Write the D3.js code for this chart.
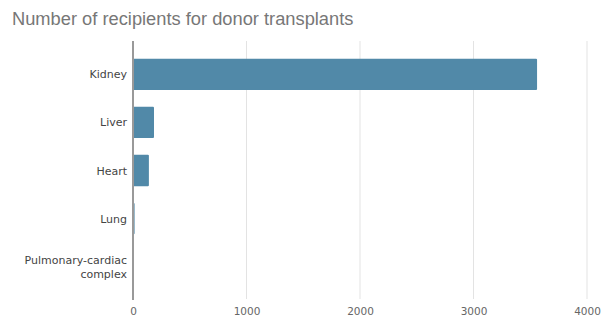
<!DOCTYPE html>
<html><head><meta charset="utf-8">
<script src="https://cdn.jsdelivr.net/npm/d3@7"></script>
<style>body{margin:0;background:#fff;} svg{display:block;}</style>
</head><body>
<svg id="c" width="601" height="322"></svg>
<script>
const categories = ["Kidney", "Liver", "Heart", "Lung", "Pulmonary-cardiac complex"];
const values = [3560, 185, 140, 14, 4];
const tickValues = [0, 1000, 2000, 3000, 4000];
const title = "Number of recipients for donor transplants";

const svg = d3.select("#c");
const x = d3.scaleLinear().domain([0, 4000]).range([133, 587]);
const y = d3.scaleBand().domain(categories).range([50, 291]).paddingInner(0.35).paddingOuter(0.18);
const font = "Liberation Sans, Arial, sans-serif";
const font2 = "DejaVu Sans, Verdana, sans-serif";

svg.append("text").attr("x", 12).attr("y", 25).text(title)
  .attr("font-family", font).attr("font-size", 18.3).attr("fill", "#777");

// grid
svg.append("g").selectAll("line").data(tickValues.slice(1)).join("line")
  .attr("x1", d => x(d)).attr("x2", d => x(d)).attr("y1", 41).attr("y2", 299)
  .attr("stroke", "#e3e3e3").attr("stroke-width", 1);

// bars
svg.append("g").selectAll("rect").data(categories).join("rect")
  .attr("x", x(0)).attr("y", d => y(d))
  .attr("width", (d, i) => Math.max(0, x(values[i]) - x(0)))
  .attr("height", y.bandwidth()).attr("fill", "#5189a8")
  .attr("rx", 1);

// axis line
svg.append("line").attr("x1", x(0)).attr("x2", x(0)).attr("y1", 41).attr("y2", 300)
  .attr("stroke", "#999").attr("stroke-width", 2);

// x tick labels
const xAxis = d3.axisBottom(x).tickValues(tickValues).tickFormat(d3.format("d")).tickSize(0).tickPadding(0);
const gx = svg.append("g").attr("transform", "translate(0,308)").call(xAxis);
gx.select(".domain").remove();
gx.selectAll("text").attr("font-family", font2).attr("font-size", 10.5).attr("fill", "#666");

// y labels
const labelLines = {"Pulmonary-cardiac complex": ["Pulmonary-cardiac", "complex"]};
const gy = svg.append("g");
categories.forEach(c => {
  const lines = labelLines[c] || [c];
  const cy = y(c) + y.bandwidth() / 2;
  const t = gy.append("text").attr("text-anchor", "end")
    .attr("font-family", font2).attr("font-size", 11).attr("fill", "#444");
  lines.forEach((l, i) => {
    t.append("tspan").attr("x", 127)
      .attr("y", cy + 4 + (i - (lines.length - 1) / 2) * 14).text(l);
  });
});
</script>
</body></html>
